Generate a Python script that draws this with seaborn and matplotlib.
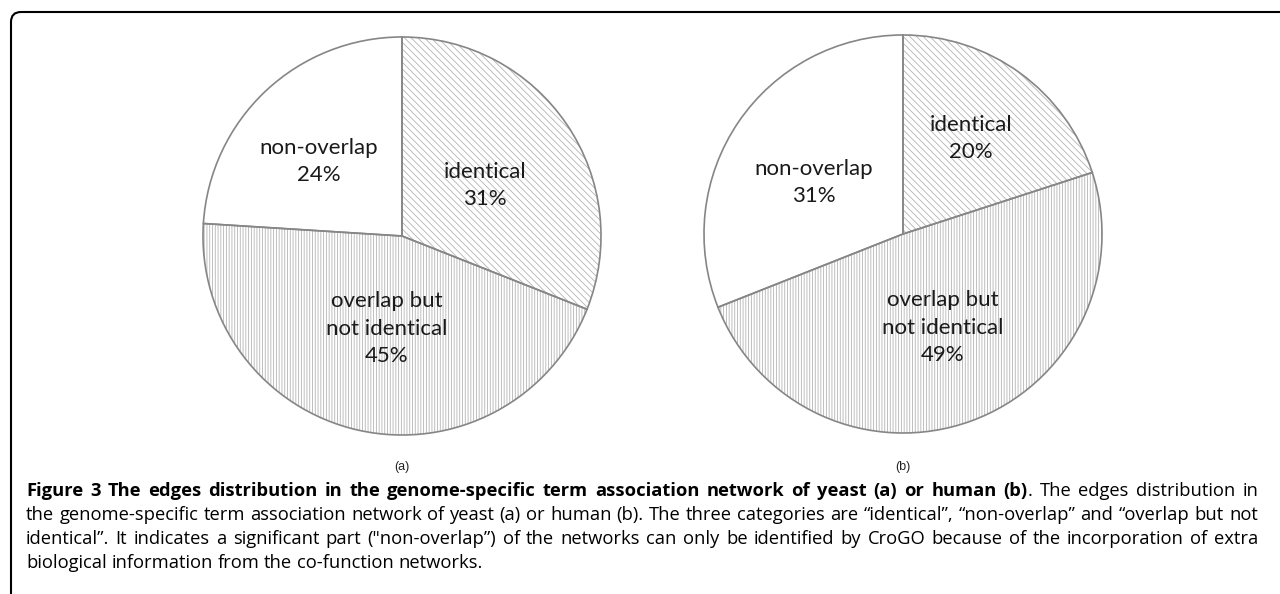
import matplotlib
matplotlib.use("Agg")
import matplotlib.pyplot as plt
from matplotlib.patches import FancyBboxPatch
import seaborn as sns

# === data ===
categories = ["identical", "overlap but\nnot identical", "non-overlap"]
yeast_pct = [31, 45, 24]
human_pct = [20, 49, 31]
panel_tags = ["(a)", "(b)"]

caption_bold = "Figure 3 The edges distribution in the genome-specific term association network of yeast (a) or human (b)"
caption_lines = [
    ". The edges distribution in",
    "the genome-specific term association network of yeast (a) or human (b). The three categories are \u201cidentical\u201d, \u201cnon-overlap\u201d and \u201coverlap but not",
    "identical\u201d. It indicates a significant part (\"non-overlap\u201d) of the networks can only be identified by CroGO because of the incorporation of extra",
    "biological information from the co-function networks.",
]

# === style ===
sns.set_theme(style="white")
plt.rcParams["font.family"] = ["Lato", "DejaVu Sans"]
plt.rcParams["hatch.linewidth"] = 0.6

W, H = 1280, 594
fig = plt.figure(figsize=(W / 100, H / 100), dpi=100)

# background axes in pixel coords: frame + caption
bg = fig.add_axes([0, 0, 1, 1])
bg.set_xlim(0, W)
bg.set_ylim(H, 0)
bg.axis("off")
frame = FancyBboxPatch((11, 12), 1500, 800, boxstyle="round,pad=0,rounding_size=10",
                       fill=False, edgecolor="black", linewidth=1.5)
bg.add_patch(frame)

hatches = ["\\\\\\\\\\", "||||||", ""]
hatch_col = "#b4b4b4"
edge_col = "#868686"

# label positions inside each pie (radius units)
label_pos = [
    [(0.415, 0.255), (-0.075, -0.465), (-0.42, 0.375)],
    [(0.34, 0.48), (0.20, -0.47), (-0.45, 0.26)],
]
centers = [(402, 236), (903, 234)]
r_px = 201

for i, vals in enumerate([yeast_pct, human_pct]):
    cx, cy = centers[i]
    ax = fig.add_axes([(cx - r_px) / W, (H - cy - r_px) / H, 2 * r_px / W, 2 * r_px / H])
    # hatched fill
    wedges, _ = ax.pie(vals, startangle=90, counterclock=False, radius=1,
                       colors=["white"] * 3,
                       wedgeprops=dict(edgecolor=hatch_col, linewidth=0))
    for w, h in zip(wedges, hatches):
        w.set_hatch(h)
    # outlines on top
    ax.pie(vals, startangle=90, counterclock=False, radius=1,
           colors=["none"] * 3,
           wedgeprops=dict(edgecolor=edge_col, linewidth=1.2, fill=False))
    for (lx, ly), cat, v in zip(label_pos[i], categories, vals):
        ax.text(lx, ly, f"{cat}\n{v}%", ha="center", va="center", fontsize=16,
                color="#1a1a1a", linespacing=1.45)
    ax.set_xlim(-1.01, 1.01)
    ax.set_ylim(-1.01, 1.01)
    ax.axis("off")
    bg.text(cx, 467, panel_tags[i], ha="center", va="center", fontsize=9,
            family="Liberation Sans", color="#222222")

# === caption (justified, word by word) ===
renderer = fig.canvas.get_renderer()
cap_font = ["Open Sans", "DejaVu Sans"]
x_left, x_right = 26, 1258
baselines = [496, 520, 544, 568]
span = x_right - x_left


def text_width(s, size, weight="normal"):
    t = bg.text(0, 0, s, fontsize=size, fontweight=weight, family=cap_font)
    w = t.get_window_extent(renderer).width
    t.remove()
    return w


# fit the regular size on the plain full lines, the bold run on the first line
s0 = 12.0
nat = max(text_width(ln, s0) for ln in caption_lines[1:3])
reg_size = s0 * span * 0.99 / nat
bold_size = reg_size
while text_width(caption_bold, bold_size, "bold") + text_width(caption_lines[0], reg_size) > span * 0.99:
    bold_size -= 0.1

# tokens: each word is a list of (text, weight) pieces
lines = []
first = [[(w, "bold")] for w in caption_bold.split(" ")]
rest = caption_lines[0].split(" ")
first[-1].append((rest[0], "normal"))
first += [[(w, "normal")] for w in rest[1:]]
lines.append(first)
for ln in caption_lines[1:]:
    lines.append([[(w, "normal")] for w in ln.split(" ")])

space = text_width("a a", reg_size) - text_width("aa", reg_size)
for k, (ln, yb) in enumerate(zip(lines, baselines)):
    widths = [[text_width(p, bold_size if wt == "bold" else reg_size, wt) for p, wt in word]
              for word in ln]
    total = sum(sum(w) for w in widths)
    gap = (span - total) / (len(ln) - 1) if k < len(lines) - 1 else space
    x = x_left
    for word, ws in zip(ln, widths):
        for (p, wt), w in zip(word, ws):
            bg.text(x, yb, p, fontsize=bold_size if wt == "bold" else reg_size,
                    fontweight=wt, family=cap_font, va="baseline", ha="left", color="black")
            x += w
        x += gap

fig.savefig("out.png", dpi=100)
